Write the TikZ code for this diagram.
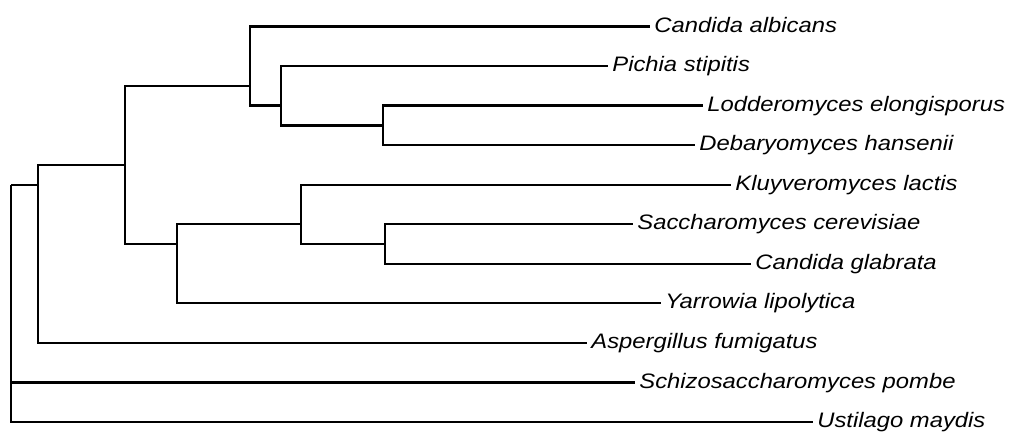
\documentclass[tikz,border=0pt]{standalone}
\usepackage{fontspec}
\setmainfont{Liberation Sans}
\newcommand{\sqtext}[1]{\scalebox{1}[0.88]{#1}}
\begin{document}
\begin{tikzpicture}[x=0.5pt,y=-0.5pt,
  branch/.style={draw=black,line width=1.15pt,line join=miter},
  lbl/.style={anchor=base west,inner sep=0pt,font=\fontsize{11.9pt}{14pt}\selectfont\itshape}]
\useasboundingbox (0,0) rectangle (1012,432);
% leaf line ends
\coordinate (l1)  at (650,26.5);
\coordinate (l2)  at (608,66.05);
\coordinate (l3)  at (703,105.6);
\coordinate (l4)  at (695,145.15);
\coordinate (l5)  at (731,184.7);
\coordinate (l6)  at (633,224.25);
\coordinate (l7)  at (751,263.8);
\coordinate (l8)  at (661,303.35);
\coordinate (l9)  at (587,342.9);
\coordinate (l10) at (635,382.45);
\coordinate (l11) at (813,422);
% internal nodes
\coordinate (nF) at (383.3,125.4);
\coordinate (nE) at (281,105.6);
\coordinate (nC) at (250,85.8);
\coordinate (nH) at (385,244.0);
\coordinate (nG) at (300.7,224.25);
\coordinate (nD) at (177,244.0);
\coordinate (nB) at (125,164.9);
\coordinate (nA) at (38.3,184.7);
\coordinate (nR) at (11.3,184.7);
% labels
\node[lbl] (t1)  at (654,32.2)  {\sqtext{Candida albicans}};
\node[lbl] (t2)  at (612,71.7)  {\sqtext{Pichia stipitis}};
\node[lbl] (t3)  at (707,111.3) {\sqtext{Lodderomyces elongisporus}};
\node[lbl] (t4)  at (699,150.8) {\sqtext{Debaryomyces hansenii}};
\node[lbl] (t5)  at (735,190.4) {\sqtext{Kluyveromyces lactis}};
\node[lbl] (t6)  at (637,229.9) {\sqtext{Saccharomyces cerevisiae}};
\node[lbl] (t7)  at (755,269.5) {\sqtext{Candida glabrata}};
\node[lbl] (t8)  at (665,309.0) {\sqtext{Yarrowia lipolytica}};
\node[lbl] (t9)  at (591,348.6) {\sqtext{Aspergillus fumigatus}};
\node[lbl] (t10) at (639,388.1) {\sqtext{Schizosaccharomyces pombe}};
\node[lbl] (t11) at (817,427.7) {\sqtext{Ustilago maydis}};
% branches
\draw[branch] (nF) |- (l3);
\draw[branch] (nF) |- (l4);
\draw[branch] (nE) |- (l2);
\draw[branch] (nE) |- (nF);
\draw[branch] (nC) |- (l1);
\draw[branch] (nC) |- (nE);
\draw[branch] (nH) |- (l6);
\draw[branch] (nH) |- (l7);
\draw[branch] (nG) |- (l5);
\draw[branch] (nG) |- (nH);
\draw[branch] (nD) |- (nG);
\draw[branch] (nD) |- (l8);
\draw[branch] (nB) |- (nC);
\draw[branch] (nB) |- (nD);
\draw[branch] (nA) |- (nB);
\draw[branch] (nA) |- (l9);
\draw[branch] (nR) |- (nA);
\draw[branch] (nR) |- (l10);
\draw[branch] (nR) |- (l11);
\end{tikzpicture}
\end{document}
